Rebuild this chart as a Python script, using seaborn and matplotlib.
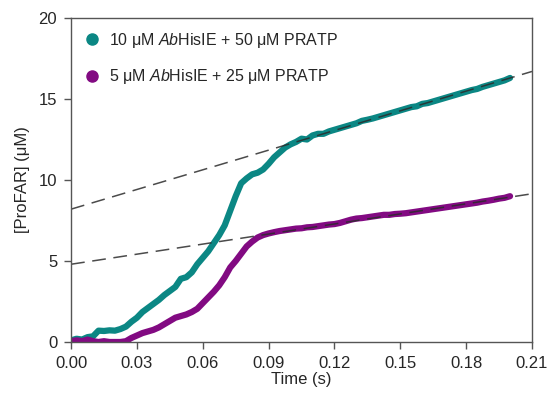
import pandas as pd
import seaborn as sns
import matplotlib
matplotlib.use("Agg")
import matplotlib.pyplot as plt
from matplotlib.lines import Line2D

# time points (s)
timeValues = [
    0.000, 0.0025, 0.005, 0.0075, 0.010, 0.0125, 0.015, 0.0175, 0.020, 0.0225,
    0.025, 0.0275, 0.030, 0.0325, 0.035, 0.0375, 0.040, 0.0425, 0.045, 0.0475,
    0.050, 0.0525, 0.055, 0.0575, 0.060, 0.0625, 0.065, 0.0675, 0.070, 0.0725,
    0.075, 0.0775, 0.080, 0.0825, 0.085, 0.0875, 0.090, 0.0925, 0.095, 0.0975,
    0.100, 0.1025, 0.105, 0.1075, 0.110, 0.1125, 0.115, 0.1175, 0.120, 0.1225,
    0.125, 0.1275, 0.130, 0.1325, 0.135, 0.1375, 0.140, 0.1425, 0.145, 0.1475,
    0.150, 0.1525, 0.155, 0.1575, 0.160, 0.1625, 0.165, 0.1675, 0.170, 0.1725,
    0.175, 0.1775, 0.180, 0.1825, 0.185, 0.1875, 0.190, 0.1925, 0.195, 0.1975,
    0.200,
]

# [ProFAR] (uM), 10 uM AbHisIE + 50 uM PRATP
highValues = [
    0.10, 0.20, 0.15, 0.30, 0.35, 0.70, 0.68, 0.72, 0.70, 0.80,
    0.95, 1.25, 1.50, 1.85, 2.10, 2.35, 2.60, 2.90, 3.15, 3.40,
    3.90, 4.00, 4.30, 4.80, 5.20, 5.60, 6.10, 6.60, 7.20, 8.10,
    9.00, 9.80, 10.10, 10.35, 10.45, 10.65, 11.00, 11.40, 11.70, 12.00,
    12.20, 12.35, 12.55, 12.50, 12.75, 12.85, 12.85, 13.00, 13.10, 13.20,
    13.30, 13.40, 13.50, 13.65, 13.72, 13.80, 13.90, 14.00, 14.10, 14.20,
    14.30, 14.40, 14.50, 14.55, 14.70, 14.75, 14.85, 14.95, 15.05, 15.15,
    15.25, 15.35, 15.45, 15.55, 15.62, 15.75, 15.85, 15.95, 16.05, 16.15,
    16.30,
]

# [ProFAR] (uM), 5 uM AbHisIE + 25 uM PRATP
lowValues = [
    0.05, 0.10, 0.05, 0.15, 0.05, 0.00, 0.05, 0.00, 0.00, 0.00,
    0.05, 0.25, 0.40, 0.55, 0.65, 0.75, 0.90, 1.10, 1.30, 1.50,
    1.60, 1.70, 1.85, 2.05, 2.40, 2.75, 3.10, 3.50, 4.00, 4.60,
    5.00, 5.45, 5.90, 6.20, 6.45, 6.60, 6.70, 6.78, 6.85, 6.90,
    6.95, 7.00, 7.02, 7.08, 7.10, 7.15, 7.20, 7.25, 7.28, 7.35,
    7.45, 7.55, 7.62, 7.65, 7.70, 7.75, 7.80, 7.85, 7.85, 7.90,
    7.92, 7.95, 8.00, 8.05, 8.10, 8.15, 8.20, 8.25, 8.30, 8.35,
    8.40, 8.45, 8.50, 8.55, 8.60, 8.67, 8.72, 8.78, 8.85, 8.90,
    9.00,
]

# linear fits of the late phase (end points)
fitTime = [0.0, 0.21]
highFit = [8.2, 16.7]
lowFit = [4.8, 9.15]

seriesLabels = [
    "10 \u03bcM $\\mathit{Ab}$HisIE + 50 \u03bcM PRATP",
    "5 \u03bcM $\\mathit{Ab}$HisIE + 25 \u03bcM PRATP",
]
seriesColors = ["#0b8784", "#820a82"]

xTicks = [0.00, 0.03, 0.06, 0.09, 0.12, 0.15, 0.18, 0.21]
yTicks = [0, 5, 10, 15, 20]

sns.set_theme(style="ticks")
plt.rcParams["font.family"] = ["Liberation Sans", "DejaVu Sans"]
plt.rcParams["mathtext.fontset"] = "custom"
plt.rcParams["mathtext.rm"] = "Liberation Sans"
plt.rcParams["mathtext.it"] = "Liberation Sans:italic"

dataFrame = pd.DataFrame({
    "time": timeValues * 2,
    "profar": highValues + lowValues,
    "series": [seriesLabels[0]] * len(timeValues) + [seriesLabels[1]] * len(timeValues),
})

fig = plt.figure(figsize=(5.51, 4.0), dpi=100)
ax = fig.add_axes([0.129, 0.145, 0.8365, 0.81])

sns.lineplot(
    data=dataFrame, x="time", y="profar", hue="series",
    palette=seriesColors, linewidth=4.5, legend=False, ax=ax,
    solid_capstyle="round", solid_joinstyle="round",
)

for fitValues in [highFit, lowFit]:
    sns.lineplot(x=fitTime, y=fitValues, color="#2b2b2b", linewidth=1.1,
                 dashes=False, ax=ax, alpha=0.85).lines[-1].set_dashes([9, 5])

ax.set_xlim(0, 0.21)
ax.set_ylim(0, 20)
ax.set_xticks(xTicks)
ax.set_xticklabels([f"{t:.2f}" for t in xTicks])
ax.set_yticks(yTicks)
ax.tick_params(axis="both", labelsize=12, direction="out", length=5,
               width=1, color="#555555", pad=5)
ax.tick_params(axis="both", which="both", top=False, right=False)
ax.set_xlabel("Time (s)", fontsize=12, labelpad=1)
ax.set_ylabel("[ProFAR] (\u03bcM)", fontsize=12, labelpad=6)

for spine in ax.spines.values():
    spine.set_color("#555555")
    spine.set_linewidth(1.0)

legendHandles = [
    Line2D([], [], linestyle="none", marker="o", markersize=8,
           markerfacecolor=seriesColors[i], markeredgecolor=seriesColors[i])
    for i in range(2)
]
ax.legend(legendHandles, seriesLabels, loc="upper left", frameon=False,
          fontsize=11.5, labelspacing=1.1, handletextpad=0.6,
          handlelength=1.0, borderaxespad=0.4, bbox_to_anchor=(0.0, 1.0))

fig.savefig("out.png", dpi=100)
